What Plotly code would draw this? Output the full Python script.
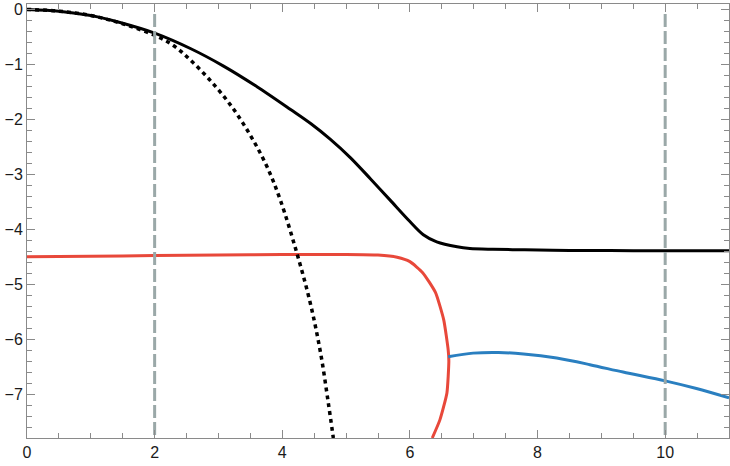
import plotly.graph_objects as go

# black solid curve
solid_x = [0, 0.5, 1.0, 1.5, 2.0, 2.56, 3.08, 3.61, 4.13, 4.45, 4.75, 5.07, 5.38, 5.69, 6.0, 6.21, 6.42, 6.74, 6.94, 7.3, 7.8, 8.5, 9.5, 11.0]
solid_y = [0, -0.03, -0.11, -0.25, -0.43, -0.71, -1.03, -1.41, -1.82, -2.08, -2.36, -2.70, -3.08, -3.47, -3.86, -4.10, -4.23, -4.32, -4.35, -4.365, -4.375, -4.385, -4.39, -4.39]

# black dotted curve
dot_x = [0, 0.5, 1.0, 1.5, 2.0, 2.3, 2.56, 2.87, 3.19, 3.5, 3.76, 3.97, 4.23, 4.44, 4.6, 4.72, 4.8]
dot_y = [0, -0.03, -0.11, -0.26, -0.47, -0.66, -0.92, -1.29, -1.74, -2.29, -2.86, -3.47, -4.44, -5.35, -6.25, -7.15, -7.8]

# red branch
red_x = [0, 1, 2, 3, 4, 5, 5.5, 5.8, 6.0, 6.2, 6.4, 6.53, 6.6, 6.61, 6.58, 6.47, 6.35]
red_y = [-4.50, -4.49, -4.48, -4.47, -4.46, -4.46, -4.47, -4.51, -4.59, -4.79, -5.15, -5.65, -6.2, -6.4, -6.98, -7.47, -7.8]

# blue branch
blue_x = [6.60, 6.99, 7.39, 7.78, 8.30, 8.82, 9.34, 10.0, 10.49, 11.0]
blue_y = [-6.32, -6.255, -6.243, -6.27, -6.345, -6.465, -6.60, -6.76, -6.90, -7.07]

vlines_x = [2, 10]
y_lo, y_hi = -7.8, 0.1

fig = go.Figure()
fig.add_trace(go.Scatter(x=red_x, y=red_y, mode="lines",
                         line=dict(color="#e8483a", width=3, shape="spline", smoothing=0.5)))
fig.add_trace(go.Scatter(x=blue_x, y=blue_y, mode="lines",
                         line=dict(color="#2a7fc0", width=3, shape="spline", smoothing=0.9)))
fig.add_trace(go.Scatter(x=dot_x, y=dot_y, mode="lines",
                         line=dict(color="black", width=3.5, dash="4px,4px", shape="spline", smoothing=1.0)))
fig.add_trace(go.Scatter(x=solid_x, y=solid_y, mode="lines",
                         line=dict(color="black", width=3, shape="spline", smoothing=0.9)))
for vx in vlines_x:
    fig.add_trace(go.Scatter(x=[vx, vx], y=[y_hi - 0.18, y_lo], mode="lines",
                             line=dict(color="#9aa8a8", width=3, dash="13px,4px")))

axis_common = dict(
    showline=True, linecolor="#8a8a8a", linewidth=1, mirror="allticks",
    ticks="inside", tickcolor="#8a8a8a", ticklen=8, tickwidth=1,
    showgrid=False, zeroline=False, automargin=False,
    tickfont=dict(family="Liberation Sans", size=16, color="#1a1a1a"),
)
fig.update_xaxes(range=[0, 11], tickvals=[0, 2, 4, 6, 8, 10],
                 minor=dict(ticks="inside", ticklen=5, tickcolor="#8a8a8a", dtick=0.5, showgrid=False),
                 **axis_common)
fig.update_yaxes(range=[y_lo, y_hi], tickvals=[0, -1, -2, -3, -4, -5, -6, -7],
                 minor=dict(ticks="inside", ticklen=5, tickcolor="#8a8a8a", dtick=0.2, showgrid=False),
                 **axis_common)
fig.update_layout(
    width=730, height=466,
    margin=dict(l=27, r=1, t=4, b=28),
    plot_bgcolor="white", paper_bgcolor="white",
    showlegend=False,
)
# page body has a default 8px margin; drop it so the figure sits at the corner
fig.write_html("out.html", config={"displayModeBar": False},
               post_script="document.body.style.margin='0';")
